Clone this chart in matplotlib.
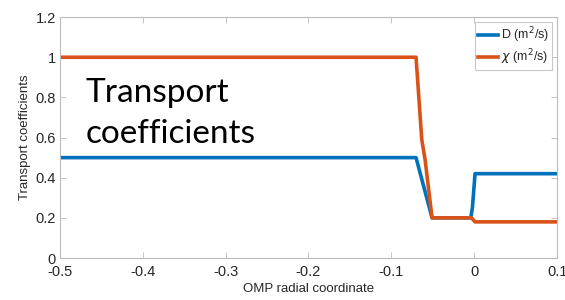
import numpy as np
import matplotlib.pyplot as plt

# coeficientes de transporte vs coordenada radial
x_D = [-0.5, -0.0702, -0.0509, -0.0042, -0.0022, 0.0010, 0.1]
D = [0.5, 0.5, 0.2, 0.2, 0.25, 0.42, 0.42]

x_chi = [-0.5, -0.0702, -0.0633, -0.0593, -0.0509, -0.0032, 0.0010, 0.1]
chi = [1.0, 1.0, 0.59, 0.49, 0.2, 0.2, 0.18, 0.18]

xticks = [-0.5, -0.4, -0.3, -0.2, -0.1, 0, 0.1]
yticks = [0, 0.2, 0.4, 0.6, 0.8, 1, 1.2]

azul = '#0072BD'
naranja = '#D95319'
gris = '#262626'

plt.rcParams['font.family'] = ['Liberation Sans', 'DejaVu Sans']

fig = plt.figure(figsize=(5.65, 3.0), dpi=100)
ax = fig.add_axes([0.106, 0.14, 0.88, 0.803])

ax.plot(x_D, D, color=azul, lw=2.6, label='D (m$^2$/s)')
ax.plot(x_chi, chi, color=naranja, lw=2.6, label=r'$\chi$ (m$^2$/s)')

ax.set_xlim(-0.5, 0.1)
ax.set_ylim(0, 1.2)
ax.set_xticks(xticks)
ax.set_xticklabels(['-0.5', '-0.4', '-0.3', '-0.2', '-0.1', '0', '0.1'])
ax.set_yticks(yticks)
ax.set_yticklabels(['0', '0.2', '0.4', '0.6', '0.8', '1', '1.2'])
ax.tick_params(direction='in', top=True, right=True, length=4, width=0.6,
               color='#bbbbbb', labelsize=10.5, labelcolor=gris)
ax.tick_params(axis='x', pad=5)
ax.tick_params(axis='y', pad=3)
for s in ax.spines.values():
    s.set_color('#bbbbbb')
    s.set_linewidth(0.8)

ax.set_xlabel('OMP radial coordinate', fontsize=9.5, color=gris, labelpad=3)
ax.set_ylabel('Transport coefficients', fontsize=9.5, color=gris, labelpad=3)

leg = ax.legend(loc='upper right', fontsize=9, frameon=True, fancybox=False,
                handlelength=1.6, handletextpad=0.2, borderpad=0.25,
                labelspacing=0.2, borderaxespad=0.4)
leg.get_frame().set_edgecolor('#bbbbbb')
leg.get_frame().set_linewidth(0.8)
for t in leg.get_texts():
    t.set_color(gris)

fig.text(86 / 565, 1 - 78 / 300, 'Transport\ncoefficients', fontsize=24,
         family='Lato', color='black', va='top', ha='left', linespacing=1.45)

fig.savefig('out.png', dpi=100)
